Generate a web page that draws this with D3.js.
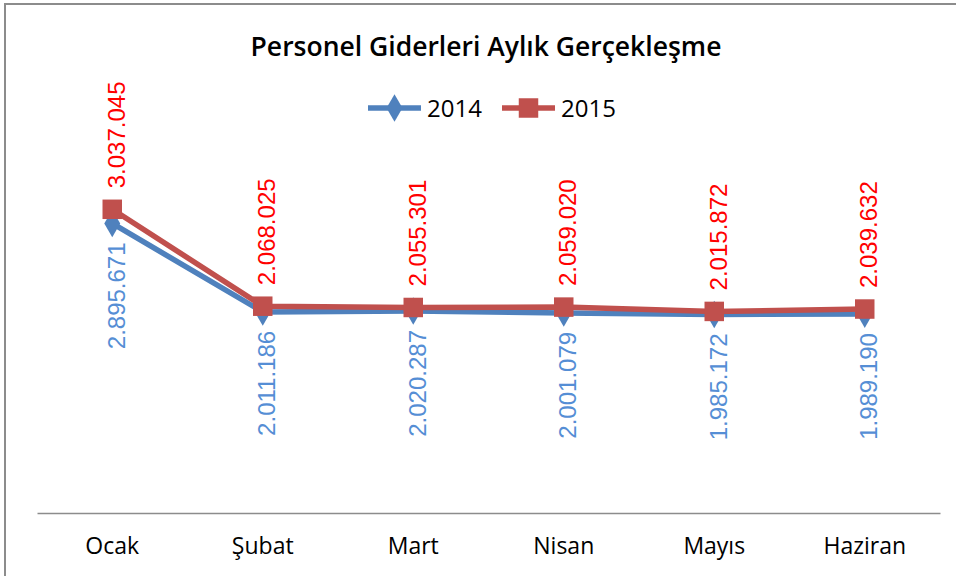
<!DOCTYPE html>
<html>
<head>
<meta charset="utf-8">
<script src="https://cdn.jsdelivr.net/npm/d3@7"></script>
<style>
  body { margin: 0; background: #fff; }
  svg { display: block; }
</style>
</head>
<body>
<div id="chart"></div>
<script>
const months = ['Ocak', 'Şubat', 'Mart', 'Nisan', 'Mayıs', 'Haziran'];
const values2014 = [2895671, 2011186, 2020287, 2001079, 1985172, 1989190];
const values2015 = [3037045, 2068025, 2055301, 2059020, 2015872, 2039632];
const seriesNames = ['2014', '2015'];

const width = 956, height = 576;
const svg = d3.select('#chart').append('svg')
  .attr('width', width)
  .attr('height', height);

// chart frame (only top and left edges fall inside the picture)
svg.append('rect')
  .attr('x', 5).attr('y', 4)
  .attr('width', 1000).attr('height', 700)
  .attr('fill', 'none')
  .attr('stroke', '#8c8c8c')
  .attr('stroke-width', 2);

const x = d3.scaleBand().domain(months).range([37, 940]);
const y = d3.scaleLinear().domain([0, 4000000]).range([513, 113]);

const fmt = v => d3.format(',')(v).replace(/,/g, '.');

// title
svg.append('text')
  .attr('x', 486).attr('y', 56)
  .attr('text-anchor', 'middle')
  .attr('font-family', 'Open Sans')
  .attr('font-weight', 600)
  .attr('font-size', 26.5)
  .attr('fill', '#000')
  .text('Personel Giderleri Aylık Gerçekleşme');

// category axis
const axis = svg.append('g')
  .attr('transform', 'translate(0,' + y(0) + ')')
  .call(d3.axisBottom(x).tickSize(0).tickPadding(25));
axis.select('.domain').attr('stroke', '#8c8c8c').attr('stroke-width', 1.5);
axis.selectAll('text')
  .attr('font-family', 'Open Sans')
  .attr('font-size', 23)
  .attr('fill', '#000');

const series = [
  { name: seriesNames[0], values: values2014, line: '#4F81BD', label: '#558ED5', shape: d3.symbolDiamond, size: 220, above: false },
  { name: seriesNames[1], values: values2015, line: '#C0504D', label: '#FF0000', shape: d3.symbolSquare, size: 380, above: true }
];

const line = d3.line()
  .x((d, i) => x(months[i]) + x.bandwidth() / 2)
  .y(d => y(d));

series.forEach(s => {
  const g = svg.append('g');
  g.append('path')
    .datum(s.values)
    .attr('d', line)
    .attr('fill', 'none')
    .attr('stroke', s.line)
    .attr('stroke-width', 5.5)
    .attr('stroke-linejoin', 'round');

  g.selectAll('path.marker')
    .data(s.values)
    .enter().append('path')
    .attr('class', 'marker')
    .attr('d', d3.symbol().type(s.shape).size(s.size))
    .attr('transform', (d, i) => 'translate(' + (x(months[i]) + x.bandwidth() / 2) + ',' + y(d) + ')')
    .attr('fill', s.line);
});

// data labels, rotated
series.forEach(s => {
  svg.append('g').selectAll('text')
    .data(s.values)
    .enter().append('text')
    .attr('transform', (d, i) => {
      const cx = x(months[i]) + x.bandwidth() / 2 + 4;
      const cy = s.above ? y(d) - 21 : y(d) + 19;
      return 'translate(' + cx + ',' + cy + ') rotate(-90)';
    })
    .attr('text-anchor', s.above ? 'start' : 'end')
    .attr('dy', '0.36em')
    .attr('font-family', 'Liberation Sans')
    .attr('font-size', 24)
    .attr('fill', s.label)
    .text(d => fmt(d));
});

// legend
const legend = svg.append('g');
const legendX = [368, 502];
series.forEach((s, i) => {
  const lg = legend.append('g').attr('transform', 'translate(' + legendX[i] + ',108)');
  lg.append('line')
    .attr('x1', 0).attr('x2', 53)
    .attr('stroke', s.line)
    .attr('stroke-width', 5.5);
  lg.append('path')
    .attr('d', d3.symbol().type(s.shape).size(s.size))
    .attr('transform', 'translate(26.5,0)')
    .attr('fill', s.line);
  lg.append('text')
    .attr('x', 59).attr('dy', '0.36em')
    .attr('font-family', 'Open Sans')
    .attr('font-size', 24)
    .attr('fill', '#000')
    .text(s.name);
});
</script>
</body>
</html>
